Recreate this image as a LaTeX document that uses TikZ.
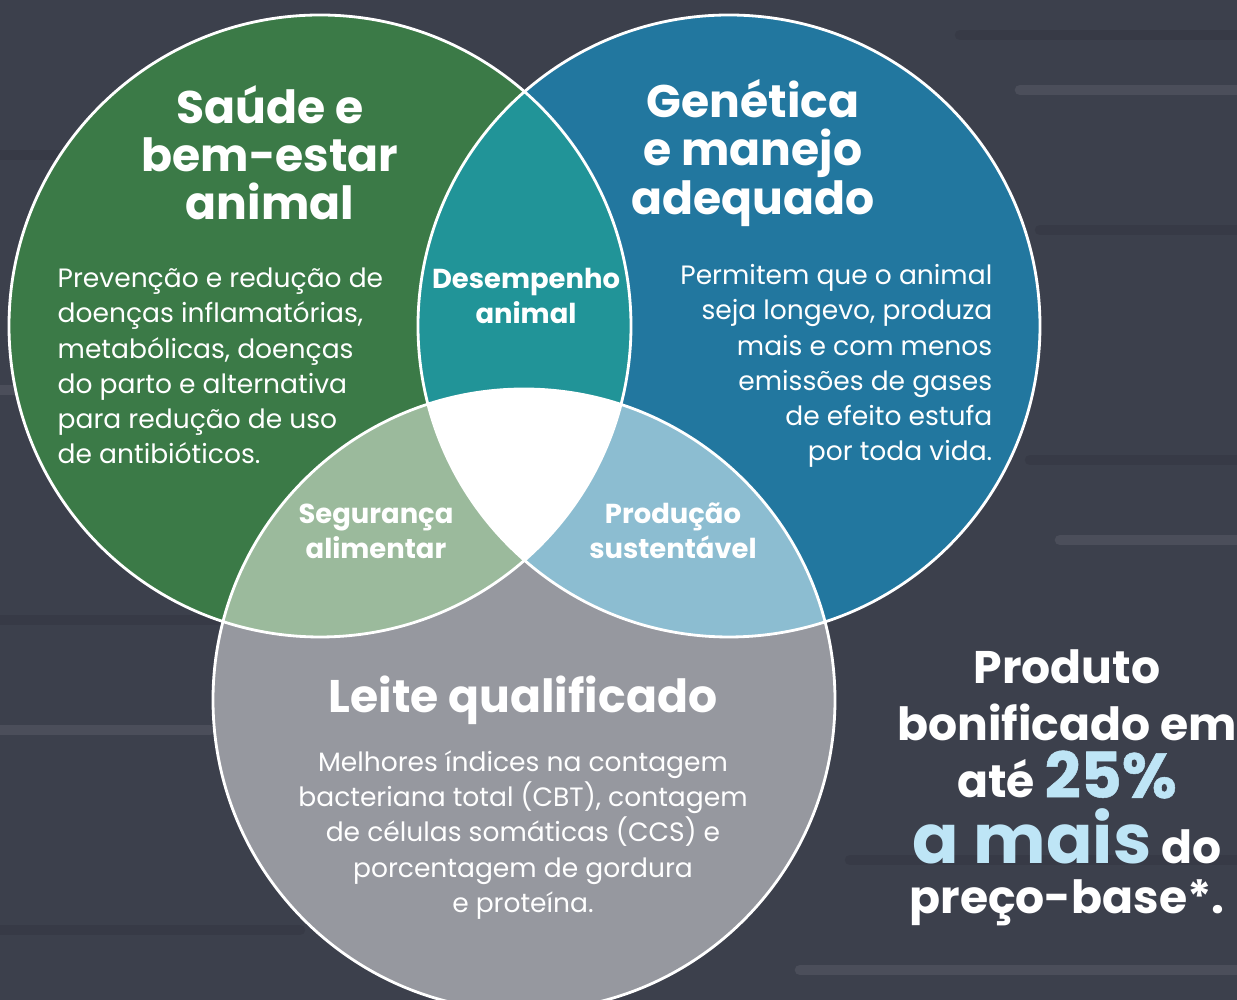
\documentclass[tikz,border=0pt]{standalone}
\usepackage{fontspec}
\setmainfont{Poppins}
\newfontfamily\numfont{Poppins}[FakeBold=0.8]
\usepackage{tikz}
\newcommand\tightlines{\lineskiplimit=-30pt\relax}
\definecolor{board}{HTML}{3C404C}
\definecolor{saude}{HTML}{3B7A47}
\definecolor{genet}{HTML}{22779F}
\definecolor{leite}{HTML}{96989F}
\definecolor{desemp}{HTML}{219498}
\definecolor{segur}{HTML}{9BBA9C}
\definecolor{produc}{HTML}{8CBDD1}
\definecolor{destaque}{HTML}{BEE5F6}
\tikzstyle{title} = [text=white,inner sep=0pt,font=\bfseries\fontsize{13}{13.7}\selectfont,align=center]
\tikzstyle{body} = [text=white,inner sep=0pt,font=\fontsize{7.55}{10}\selectfont]
\tikzstyle{lens} = [text=white,inner sep=0pt,font=\bfseries\fontsize{7.8}{10}\selectfont,align=center]
\tikzstyle{ring} = [draw=white,line width=0.8pt]
\tikzstyle{grain} = [line width=3pt,opacity=0.08,line cap=round]

\begin{document}
\begin{tikzpicture}
          \useasboundingbox (0,0) rectangle (12.37,-10);
          \clip (0,0) rectangle (12.37,-10);
          \fill[board] (0,0) rectangle (12.37,-10);
          \foreach \y/\a/\b/\c in {-0.35/9.6/12.4/black, -0.9/10.2/12.4/white, -1.55/0/1.6/black,
                                   -2.3/10.4/12.4/black, -3.9/0/0.9/white, -4.6/10.3/12.4/black,
                                   -5.4/10.6/12.4/white, -6.2/0/2.4/black, -7.3/0/2.1/white,
                                   -8.6/8.5/12.4/black, -9.3/0/3/black, -9.7/8/12.4/white}
            \draw[grain, \c] (\a,\y) -- (\b,\y);

          \coordinate (G) at (3.20,-3.26);
          \coordinate (B) at (7.29,-3.26);
          \coordinate (M) at (5.24,-7.00);

          \fill[saude] (G) circle (3.11);
          \fill[genet] (B) circle (3.11);
          \fill[leite] (M) circle (3.11);
          \begin{scope}
            \clip (G) circle (3.11);
            \fill[desemp] (B) circle (3.11);
            \fill[segur] (M) circle (3.11);
          \end{scope}
          \begin{scope}
            \clip (B) circle (3.11);
            \fill[produc] (M) circle (3.11);
            \clip (G) circle (3.11);
            \fill[white] (M) circle (3.11);
          \end{scope}
          \draw[ring] (G) circle (3.11);
          \draw[ring] (B) circle (3.11);
          \draw[ring] (M) circle (3.11);

          \node[title] at (2.70,-1.53) (saudeT) {Saúde e\\bem-estar\\animal};
          \node[body, anchor=west, align=left] at (0.57,-3.66) (saudeB)
            {Prevenção e redução de\\doenças inflamatórias,\\metabólicas, doenças\\do parto e alternativa\\para redução de uso\\de antibióticos.};
          \node[title] at (7.53,-1.53) (genetT) {Genética\\e manejo\\adequado};
          \node[body, anchor=east, align=right] at (9.93,-3.66) (genetB)
            {Permitem que o animal\\seja longevo, produza\\mais e com menos\\emissões de gases\\de efeito estufa\\por toda vida.};
          \node[lens] at (5.26,-2.96) (desempL) {Desempenho\\animal};
          \node[lens] at (3.76,-5.31) (segurL) {Segurança\\alimentar};
          \node[lens] at (6.73,-5.31) (producL) {Produção\\sustentável};
          \node[title] at (5.23,-7.00) (leiteT) {Leite qualificado};
          \node[body, align=center] at (5.23,-8.35) (leiteB)
            {Melhores índices na contagem\\bacteriana total (CBT), contagem\\de células somáticas (CCS) e\\porcentagem de gordura\\e proteína.};
          \node[title, font={\bfseries\fontsize{13}{16.2}\selectfont\tightlines}] at (10.67,-7.88) (bonus)
            {Produto\\bonificado em\\até \textcolor{destaque}{\numfont\fontsize{18}{16.2}\selectfont 25\%}\\[2.5pt]\textcolor{destaque}{\fontsize{19.5}{16.2}\selectfont a mais} do\\[-2pt]preço-base*.};
        \end{tikzpicture}
\end{document}
